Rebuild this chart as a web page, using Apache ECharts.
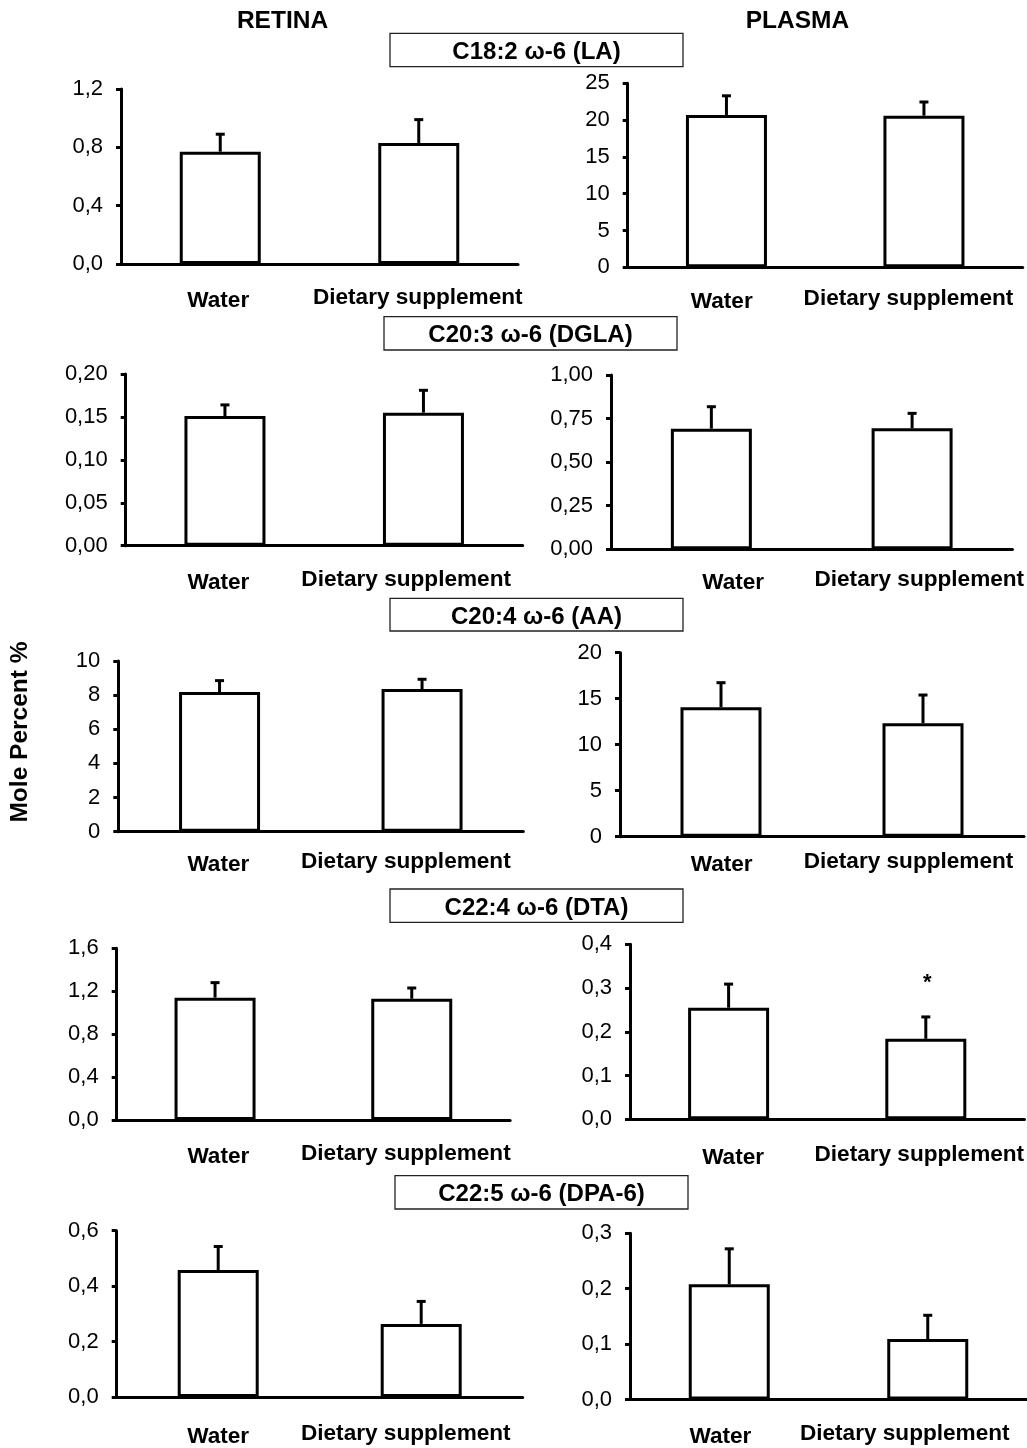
<!DOCTYPE html>
<html><head><meta charset="utf-8">
<script src="https://cdn.jsdelivr.net/npm/echarts@6/dist/echarts.min.js"></script>
<style>html,body{margin:0;padding:0;background:#fff}#c{width:1027px;height:1448px}</style>
</head><body><div id="c"></div><script>
// ---------- DATA ----------
const categories = ['Water', 'Dietary supplement'];
const columnTitles = ['RETINA', 'PLASMA'];
const fattyAcids = ['C18:2 ω-6 (LA)', 'C20:3 ω-6 (DGLA)', 'C20:4 ω-6 (AA)', 'C22:4 ω-6 (DTA)', 'C22:5 ω-6 (DPA-6)'];
const yAxisTitle = 'Mole Percent %';

const retinaMean = [[0.77, 0.83], [0.151, 0.155], [8.18, 8.36], [1.14, 1.13], [0.458, 0.264]];
const retinaSE   = [[0.12, 0.16], [0.013, 0.026], [0.67, 0.57], [0.14, 0.10], [0.085, 0.081]];
const plasmaMean = [[20.7, 20.6], [0.692, 0.694], [14.07, 12.33], [0.255, 0.184], [0.208, 0.109]];
const plasmaSE   = [[2.6, 1.86], [0.126, 0.086], [2.67, 3.07], [0.054, 0.050], [0.064, 0.043]];
const retinaSignificance = [['', ''], ['', ''], ['', ''], ['', ''], ['', '']];
const plasmaSignificance = [['', ''], ['', ''], ['', ''], ['', '*'], ['', '']];

const retinaTicks = [[0, 0.4, 0.8, 1.2], [0, 0.05, 0.10, 0.15, 0.20], [0, 2, 4, 6, 8, 10], [0, 0.4, 0.8, 1.2, 1.6], [0, 0.2, 0.4, 0.6]];
const plasmaTicks = [[0, 5, 10, 15, 20, 25], [0, 0.25, 0.50, 0.75, 1.00], [0, 5, 10, 15, 20], [0, 0.1, 0.2, 0.3, 0.4], [0, 0.1, 0.2, 0.3]];
const retinaDecimals = [1, 2, 0, 1, 1];
const plasmaDecimals = [0, 2, 0, 1, 1];

// ---------- LAYOUT (positions/styles only) ----------
const layout = [
  {l: 121,   t: 89,     w: 397, b: 264,    m: 23,   dx: [-2, -1]},
  {l: 627.7, t: 83.3,   w: 395, b: 267.3,  m: 20,   dx: [-4.7, -15.5]},
  {l: 125.7, t: 374,    w: 397, b: 545.7,  m: 23.3, dx: [-6.5, -17.3]},
  {l: 611,   t: 375,    w: 402, b: 549.3,  m: 19.7, dx: [21.8, 7.2]},
  {l: 118.3, t: 661,    w: 405, b: 831.7,  m: 18.6, dx: [-1.2, -16.2]},
  {l: 620,   t: 652.7,  w: 404, b: 836.7,  m: 13.6, dx: [0.7, -14.5]},
  {l: 116.7, t: 948.3,  w: 393.4, b: 1120, m: 23,   dx: [3.3, -5.9]},
  {l: 630,   t: 944.3,  w: 395, b: 1119.3, m: 24.4, dx: [4.5, -6.5]},
  {l: 116.7, t: 1230.7, w: 406, b: 1399.3, m: 25.4, dx: [0, -15.4]},
  {l: 630,   t: 1233.3, w: 402, b: 1402.7, m: 23,   dx: [-8.8, -23]}
];
const boxes = [
  {x: 390, y: 33.3, w: 293, h: 33.4},
  {x: 384, y: 316.7, w: 293, h: 33.3},
  {x: 390, y: 598.3, w: 293, h: 32.7},
  {x: 390, y: 889, w: 293, h: 33.3},
  {x: 395, y: 1175.7, w: 293, h: 33.3}
];
const FONT = "'Liberation Sans', Arial, Helvetica, sans-serif";

const grids = [], xAxes = [], yAxes = [], series = [];
for (let row = 0; row < 5; row++) {
  for (let col = 0; col < 2; col++) {
    const i = row * 2 + col;
    const L = layout[i];
    const means = col === 0 ? retinaMean[row] : plasmaMean[row];
    const ses = col === 0 ? retinaSE[row] : plasmaSE[row];
    const sig = col === 0 ? retinaSignificance[row] : plasmaSignificance[row];
    const ticks = col === 0 ? retinaTicks[row] : plasmaTicks[row];
    const dec = col === 0 ? retinaDecimals[row] : plasmaDecimals[row];

    grids.push({left: L.l, top: L.t, width: L.w, height: L.b - L.t, containLabel: false});

    const rich = {};
    categories.forEach((c, j) => {
      const d = L.dx[j];
      const extraTop = j === 0 ? 3 : 0;
      rich['c' + j] = {
        fontSize: 22.6, fontWeight: 'bold', fontFamily: FONT, color: '#000',
        padding: [extraTop, d < 0 ? -2 * d : 0, 0, d > 0 ? 2 * d : 0]
      };
    });
    xAxes.push({
      type: 'category', gridIndex: i, data: categories, z: 10,
      axisLine: {show: true, lineStyle: {color: '#000', width: 3}},
      axisTick: {show: false},
      axisLabel: {
        interval: 0, margin: L.m - 0.5, verticalAlign: 'top',
        formatter: (v, idx) => '{c' + idx + '|' + v + '}',
        rich: rich
      },
      splitLine: {show: false}
    });
    yAxes.push({
      type: 'value', gridIndex: i, z: 10,
      min: ticks[0], max: ticks[ticks.length - 1], interval: ticks[1] - ticks[0],
      axisLine: {show: true, lineStyle: {color: '#000', width: 3}},
      axisTick: {show: true, length: 5, lineStyle: {color: '#000', width: 3}},
      axisLabel: {
        fontSize: 22, fontFamily: FONT, color: '#000', margin: 18,
        formatter: v => v.toFixed(dec).replace('.', ',')
      },
      splitLine: {show: false}
    });
    series.push({
      type: 'bar', xAxisIndex: i, yAxisIndex: i, data: means, barWidth: 81,
      itemStyle: {color: '#fff', borderColor: '#000', borderWidth: 3},
      silent: true, z: 3
    });
    series.push({
      type: 'custom', xAxisIndex: i, yAxisIndex: i, z: 4, silent: true,
      data: means.map((m, j) => [j, m, m + ses[j]]),
      renderItem: (params, api) => {
        const x = api.value(0);
        const p0 = api.coord([x, api.value(1)]);
        const p1 = api.coord([x, api.value(2)]);
        const children = [
          {type: 'line', shape: {x1: p0[0], y1: p0[1], x2: p1[0], y2: p1[1]}, style: {stroke: '#000', lineWidth: 3}},
          {type: 'line', shape: {x1: p1[0] - 4.5, y1: p1[1], x2: p1[0] + 4.5, y2: p1[1]}, style: {stroke: '#000', lineWidth: 3}}
        ];
        const s = sig[params.dataIndex];
        if (s) {
          children.push({type: 'text', x: p1[0] + 1.5, y: p1[1] - 34,
            style: {text: s, fontSize: 22, fontWeight: 'bold', fontFamily: FONT, fill: '#000',
              align: 'center', verticalAlign: 'middle', textAlign: 'center', textVerticalAlign: 'middle'}});
        }
        return {type: 'group', children: children};
      }
    });
  }
}

const graphic = [];
const colCenters = [282.5, 797.5];
columnTitles.forEach((t, k) => {
  graphic.push({type: 'text', x: colCenters[k], y: 21.6,
    style: {text: t, fontSize: 24.5, fontWeight: 'bold', fontFamily: FONT, fill: '#000',
      align: 'center', verticalAlign: 'middle', textAlign: 'center', textVerticalAlign: 'middle'}});
});
fattyAcids.forEach((t, k) => {
  const B = boxes[k];
  graphic.push({type: 'rect', shape: {x: B.x, y: B.y, width: B.w, height: B.h},
    style: {fill: '#fff', stroke: '#222', lineWidth: 1.3}});
  graphic.push({type: 'text', x: B.x + B.w / 2, y: B.y + B.h / 2 + 2.5,
    style: {text: t, fontSize: 24, fontWeight: 'bold', fontFamily: FONT, fill: '#000',
      align: 'center', verticalAlign: 'middle', textAlign: 'center', textVerticalAlign: 'middle'}});
});
graphic.push({type: 'text', x: 20.7, y: 732, rotation: Math.PI / 2,
  style: {text: yAxisTitle, fontSize: 24.5, fontWeight: 'bold', fontFamily: FONT, fill: '#000',
    align: 'center', verticalAlign: 'middle', textAlign: 'center', textVerticalAlign: 'middle'}});

const chart = echarts.init(document.getElementById('c'), null, {renderer: 'canvas'});
chart.setOption({
  backgroundColor: '#fff',
  animation: false,
  textStyle: {fontFamily: FONT},
  grid: grids, xAxis: xAxes, yAxis: yAxes, series: series, graphic: graphic
});
</script></body></html>
